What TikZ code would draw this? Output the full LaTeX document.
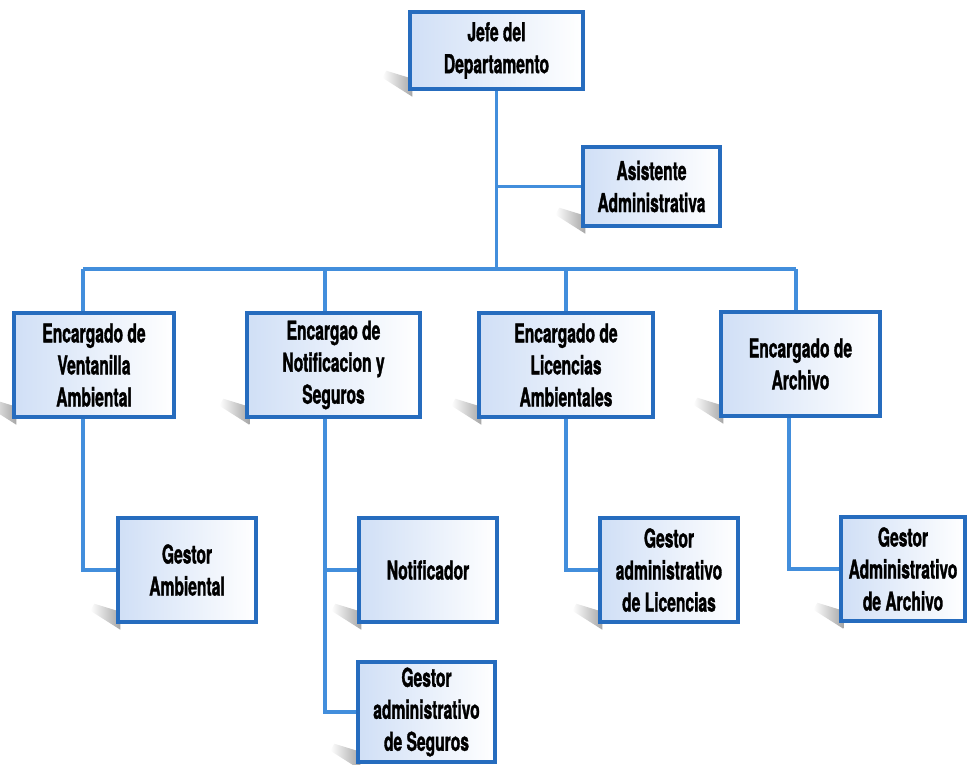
\documentclass[tikz,border=0pt]{standalone}
\usepackage{fontspec}
\setmainfont{TeX Gyre Heros}[FakeStretch=0.6, BoldFeatures={FakeBold=1.2}]
\usetikzlibrary{calc}
\definecolor{boxline}{RGB}{38,108,190}
\definecolor{conline}{RGB}{66,142,220}
\definecolor{boxfill}{RGB}{208,223,246}
\pgfdeclarelayer{background}
\pgfsetlayers{background,main}
\tikzset{
  puesto/.style={draw=boxline, line width=3.4pt, left color=boxfill, right color=white,
    align=center, text=black, inner sep=2pt, minimum height=104pt,
    font=\bfseries\fontsize{26}{32}\selectfont},
  enlace/.style={conline, line width=3.4pt},
  sombra/.style={left color=white, right color=black!35, draw=none}
}

\begin{document}
\begin{tikzpicture}[x=1pt,y=-1pt]
  \useasboundingbox (0,0) rectangle (969,764);
  % cargos
  \node[puesto, minimum width=173pt, minimum height=77pt] (jefe) at (496.5,50.5) {Jefe del\\Departamento};
  \node[puesto, minimum width=137pt, minimum height=79pt] (asist) at (651.5,186.5) {Asistente\\Administrativa};
  \node[puesto, minimum width=160pt] (enc1) at (94,365) {Encargado de\\Ventanilla\\Ambiental};
  \node[puesto, minimum width=173pt] (enc2) at (333.5,365) {Encargao de\\Notificacion y\\Seguros};
  \node[puesto, minimum width=174pt] (enc3) at (566,365) {Encargado de\\Licencias\\Ambientales};
  \node[puesto, minimum width=159pt] (enc4) at (800.5,364) {Encargado de\\Archivo};
  \node[puesto, minimum width=138pt] (gamb) at (187,570) {Gestor\\Ambiental};
  \node[puesto, minimum width=138pt] (notif) at (428,570) {Notificador};
  \node[puesto, minimum width=137pt, minimum height=100pt] (gseg) at (426.5,712) {Gestor\\administrativo\\de Seguros};
  \node[puesto, minimum width=138pt] (glic) at (669,570) {Gestor\\administrativo\\de Licencias};
  \node[puesto, minimum width=124pt] (garch) at (903,569) {Gestor\\Administrativo\\de Archivo};

  % barra y bajadas
  \coordinate (bus1) at (83,269);
  \coordinate (bus2) at (325,269);
  \coordinate (bus3) at (566,269);
  \coordinate (bus4) at (796,269);
  \coordinate (baja4) at (789,416);

  \begin{pgfonlayer}{background}
    \foreach \b in {jefe,asist,enc1,enc2,enc3,enc4,gamb,notif,gseg,glic,garch}
      \shade[sombra] ($(\b.south west)+(4,-12)$) -- ($(\b.south west)+(-22,-20)$)
        -- ($(\b.south west)+(-26,-13)$) -- ($(\b.south west)+(4,6)$) -- cycle;
    \draw[enlace] (bus1) -- (bus4);
    \draw[enlace] (jefe.south) -- (jefe.south |- bus1);
    \draw[enlace] (jefe.south |- asist.west) -- (asist.west);
    \foreach \i in {1,...,4}
      \draw[enlace] (bus\i) -- (bus\i |- enc\i.north);
    \draw[enlace] (bus1 |- enc1.south) |- (gamb.west);
    \draw[enlace] (bus2 |- enc2.south) |- (gseg.west);
    \draw[enlace] (bus2 |- notif.west) -- (notif.west);
    \draw[enlace] (bus3 |- enc3.south) |- (glic.west);
    \draw[enlace] (baja4) |- (garch.west);
  \end{pgfonlayer}
\end{tikzpicture}
\end{document}
